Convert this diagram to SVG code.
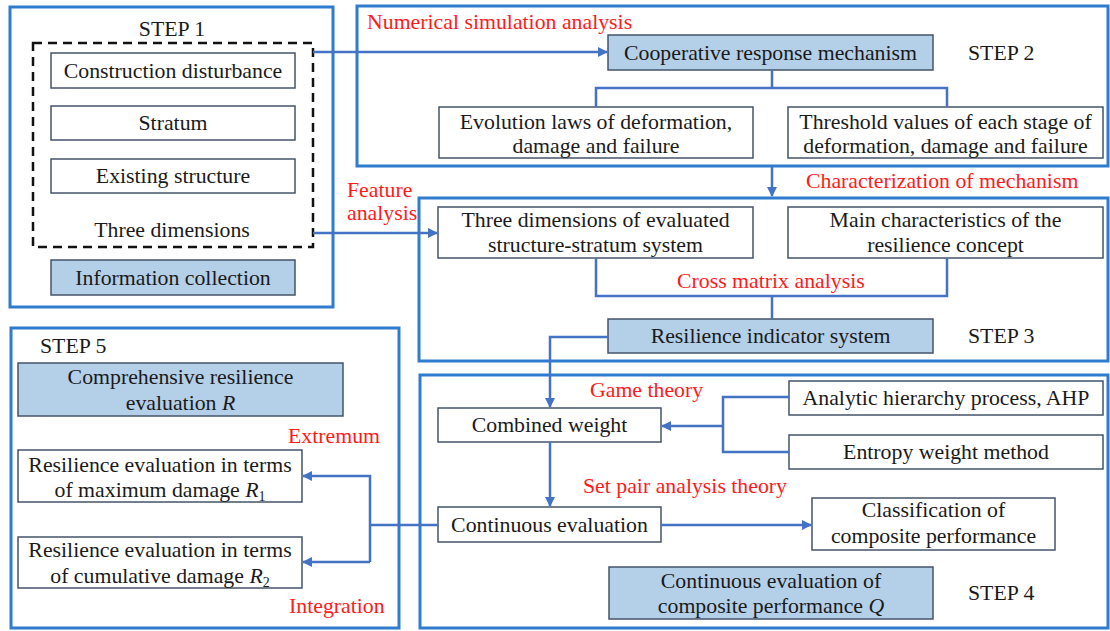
<svg xmlns="http://www.w3.org/2000/svg" width="1110" height="631" viewBox="0 0 1110 631">
<style>
text{font-family:"Liberation Serif","Times New Roman",serif;font-size:21.8px;fill:#1a1a1a}
.c{text-anchor:middle}
.red{fill:#ff1a1a}
.frame{fill:none;stroke:#2f7ccf;stroke-width:3}
.box{fill:#fff;stroke:#44546a;stroke-width:1.5}
.hl{fill:#b4cfe8;stroke:#44546a;stroke-width:1.5}
.dash{fill:none;stroke:#111;stroke-width:2.5;stroke-dasharray:9 6}
.con{fill:none;stroke:#4472c4;stroke-width:2.5}
.arr{marker-end:url(#ah)}
</style>
<defs>
<marker id="ah" markerWidth="10" markerHeight="10" refX="9" refY="5" orient="auto" markerUnits="userSpaceOnUse">
<path d="M0,0 L10,5 L0,10 Z" fill="#4472c4"/>
</marker>
</defs>
<rect width="1110" height="631" fill="#fff"/>

<g id="frames">
<rect class="frame" x="10" y="7" width="323" height="300"/>
<rect class="frame" x="357" y="6" width="751" height="160"/>
<rect class="frame" x="419" y="198" width="689" height="163"/>
<rect class="frame" x="420" y="375" width="688" height="253"/>
<rect class="frame" x="11" y="328" width="388" height="300"/>
</g>

<g id="step1">
<text class="c" x="172" y="36">STEP 1</text>
<rect class="dash" x="33" y="43" width="280" height="204"/>
<text class="c" x="172" y="237">Three dimensions</text>
</g>
<g id="n-construction"><rect class="box" x="51" y="53" width="244" height="35"/><text class="c" x="173" y="78">Construction disturbance</text></g>
<g id="n-stratum"><rect class="box" x="51" y="106" width="244" height="34"/><text class="c" x="173" y="130">Stratum</text></g>
<g id="n-existing"><rect class="box" x="51" y="159" width="244" height="34"/><text class="c" x="173" y="183">Existing structure</text></g>
<g id="n-info"><rect class="hl" x="51" y="260" width="244" height="35"/><text class="c" x="173" y="285">Information collection</text></g>

<g id="step2">
<text class="red" x="367" y="29">Numerical simulation analysis</text>
<text x="968" y="60">STEP 2</text>
</g>
<g id="n-coop"><rect class="hl" x="608" y="35" width="325" height="35"/><text class="c" x="770.5" y="60">Cooperative response mechanism</text></g>
<g id="n-evolution"><rect class="box" x="439" y="107" width="314" height="51"/><text class="c" x="596" y="129">Evolution laws of deformation,</text><text class="c" x="596" y="153">damage and failure</text></g>
<g id="n-threshold"><rect class="box" x="788" y="107" width="315" height="51"/><text class="c" x="945.5" y="129">Threshold values of each stage of</text><text class="c" x="945.5" y="153">deformation, damage and failure</text></g>

<g id="step3">
<text class="red" x="806" y="188">Characterization of mechanism</text>
<text class="red" x="347" y="197">Feature</text>
<text class="red" x="347" y="220">analysis</text>
<text class="red" x="677" y="288">Cross matrix analysis</text>
<text x="968" y="343">STEP 3</text>
</g>
<g id="n-threedim"><rect class="box" x="438" y="207" width="315" height="51"/><text class="c" x="595.5" y="227">Three dimensions of evaluated</text><text class="c" x="595.5" y="252">structure-stratum system</text></g>
<g id="n-mainchar"><rect class="box" x="788" y="207" width="315" height="51"/><text class="c" x="945.5" y="227">Main characteristics of the</text><text class="c" x="945.5" y="252">resilience concept</text></g>
<g id="n-indicator"><rect class="hl" x="608" y="319" width="325" height="34"/><text class="c" x="770.5" y="343">Resilience indicator system</text></g>

<g id="step4">
<text class="red" x="590" y="397">Game theory</text>
<text class="red" x="583" y="493">Set pair analysis theory</text>
<text x="968" y="600">STEP 4</text>
</g>
<g id="n-combined"><rect class="box" x="438" y="408" width="223" height="34"/><text class="c" x="549.5" y="432">Combined weight</text></g>
<g id="n-ahp"><rect class="box" x="789" y="381" width="314" height="34"/><text class="c" x="946" y="405">Analytic hierarchy process, AHP</text></g>
<g id="n-entropy"><rect class="box" x="789" y="435" width="314" height="34"/><text class="c" x="946" y="459">Entropy weight method</text></g>
<g id="n-conteval"><rect class="box" x="438" y="507" width="223" height="35"/><text class="c" x="549.5" y="532">Continuous evaluation</text></g>
<g id="n-class"><rect class="box" x="812" y="498" width="243" height="52"/><text class="c" x="933.5" y="517">Classification of</text><text class="c" x="933.5" y="543">composite performance</text></g>
<g id="n-q"><rect class="hl" x="609" y="567" width="324" height="52"/><text class="c" x="771" y="588">Continuous evaluation of</text><text class="c" x="771" y="613">composite performance <tspan font-style="italic">Q</tspan></text></g>

<g id="step5">
<text x="40" y="353">STEP 5</text>
<text class="red" x="288" y="443">Extremum</text>
<text class="red" x="289" y="613">Integration</text>
</g>
<g id="n-R"><rect class="hl" x="18" y="363" width="325" height="53"/><text class="c" x="180.5" y="384">Comprehensive resilience</text><text class="c" x="180.5" y="410">evaluation <tspan font-style="italic">R</tspan></text></g>
<g id="n-R1"><rect class="box" x="18" y="450" width="284" height="52"/><text class="c" x="160" y="472">Resilience evaluation in terms</text><text class="c" x="160" y="497">of maximum damage <tspan font-style="italic">R</tspan><tspan font-size="14" dy="4">1</tspan></text></g>
<g id="n-R2"><rect class="box" x="18" y="537" width="284" height="51"/><text class="c" x="160" y="557">Resilience evaluation in terms</text><text class="c" x="160" y="583">of cumulative damage <tspan font-style="italic">R</tspan><tspan font-size="14" dy="4">2</tspan></text></g>

<g id="connectors">
<path class="con arr" d="M313,52 H607"/>
<path class="con arr" d="M313,233 H437"/>
<path class="con" d="M772,70 V88 M596,107 V88 H947 V107"/>
<path class="con arr" d="M772,166 V196"/>
<path class="con" d="M596,258 V296 H947 V258"/>
<path class="con" d="M772,296 V319"/>
<path class="con arr" d="M608,337 H550 V407"/>
<path class="con" d="M789,397 H723 V452 H789"/>
<path class="con arr" d="M723,426 H662"/>
<path class="con arr" d="M550,442 V506"/>
<path class="con arr" d="M661,525 H811"/>
<path class="con" d="M438,525 H370"/>
<path class="con arr" d="M370,562 V476 H303"/>
<path class="con arr" d="M370,562 H303"/>
</g>
</svg>
